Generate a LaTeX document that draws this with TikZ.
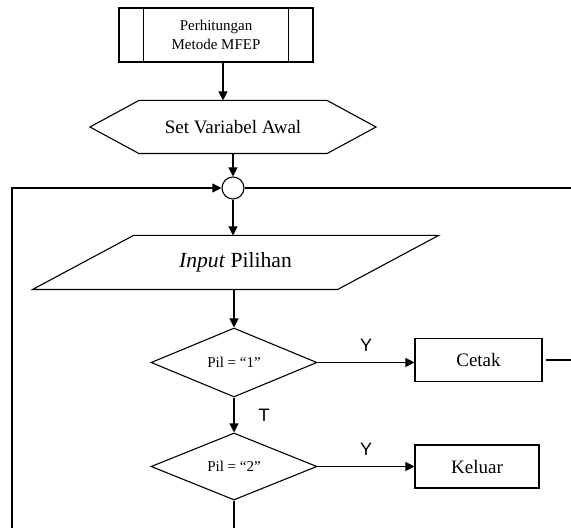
\documentclass[tikz,border=0pt]{standalone}
\usepackage{fontspec}
\setmainfont{Liberation Serif}
\newfontfamily\labelfont{Liberation Sans}
\usepackage{tikz}
\usetikzlibrary{shapes.geometric,arrows.meta}

\begin{document}
\begin{tikzpicture}[x=0.5pt, y=-0.5pt, line width=0.55pt,
    arr/.style={-{Triangle[length=4.5pt,width=4.5pt]}},
    flowbox/.style={draw, rectangle, inner sep=0pt, font=\fontsize{9.5}{11}\selectfont},
    decision/.style={draw, diamond, inner sep=0pt, minimum width=83pt, minimum height=34.5pt, font=\fontsize{7.5}{9}\selectfont},
    yt/.style={inner sep=0pt, font=\labelfont\fontsize{9}{10}\selectfont}]
    \useasboundingbox (0,0) rectangle (571,528);

    \node[flowbox, minimum width=97pt, minimum height=27pt, align=center, font=\fontsize{7.5}{9.5}\selectfont] (proc) at (216,35) {Perhitungan\\Metode MFEP};
    \draw ([xshift=12.5pt]proc.north west) -- ([xshift=12.5pt]proc.south west);
    \draw ([xshift=-12.5pt]proc.north east) -- ([xshift=-12.5pt]proc.south east);

    \node[flowbox, draw=none, minimum width=142.5pt, minimum height=26pt] (hex) at (233,127) {Set Variabel Awal};
    \draw (hex.west) -- ([xshift=24.5pt]hex.north west) -- ([xshift=-24.5pt]hex.north east) -- (hex.east)
        -- ([xshift=-24.5pt]hex.south east) -- ([xshift=24.5pt]hex.south west) -- cycle;

    \node[draw, circle, minimum size=11pt, inner sep=0pt] (join) at (233,188) {};

    \node[flowbox, draw=none, minimum width=202.5pt, minimum height=26.5pt, font=\fontsize{10.8}{12}\selectfont] (input) at (235.5,262.5) {\textit{Input} Pilihan};
    \draw (input.south west) -- ([xshift=50.5pt]input.north west) -- (input.north east)
        -- ([xshift=-50.5pt]input.south east) -- cycle;

    \node[decision] (pil1) at (234,362.5) {Pil = ``1''};
    \node[flowbox, minimum width=63.5pt, minimum height=21.5pt] (cetak) at (478.5,360) {Cetak};
    \node[decision, minimum height=33.5pt] (pil2) at (234,466.5) {Pil = ``2''};
    \node[flowbox, minimum width=62pt, minimum height=21.5pt] (keluar) at (477,466.5) {Keluar};

    \coordinate (loopbot) at (12,528);
    \coordinate (loopright) at (571,188);
    \coordinate (cetakout) at (571,360);
    \coordinate (pilout) at (234,528);

    % alur utama
    \draw[arr] ([xshift=3.5pt]proc.south) -- ([xshift=3.5pt]proc.south |- hex.north);
    \draw[arr] (hex.south) -- (join.north);
    \draw[arr] (join.south) -- (join.south |- input.north);
    \draw[arr] (input.south -| pil1.north) -- (pil1.north);
    \draw[arr] (pil1.east) -- node[yt, above=5pt] {Y} (pil1.east -| cetak.west);
    \draw[arr] (pil1.south) -- node[yt, right=12pt] {T} (pil2.north);
    \draw[arr] (pil2.east) -- node[yt, above=5pt] {Y} (keluar.west);
    \draw (pil2.south) -- (pilout);

    % kembali ke awal
    \draw[arr] (loopbot) |- (join.west);
    \draw (join.east) -- (loopright);
    \draw ([xshift=1.5pt]cetak.east) -- (cetakout);
\end{tikzpicture}
\end{document}
